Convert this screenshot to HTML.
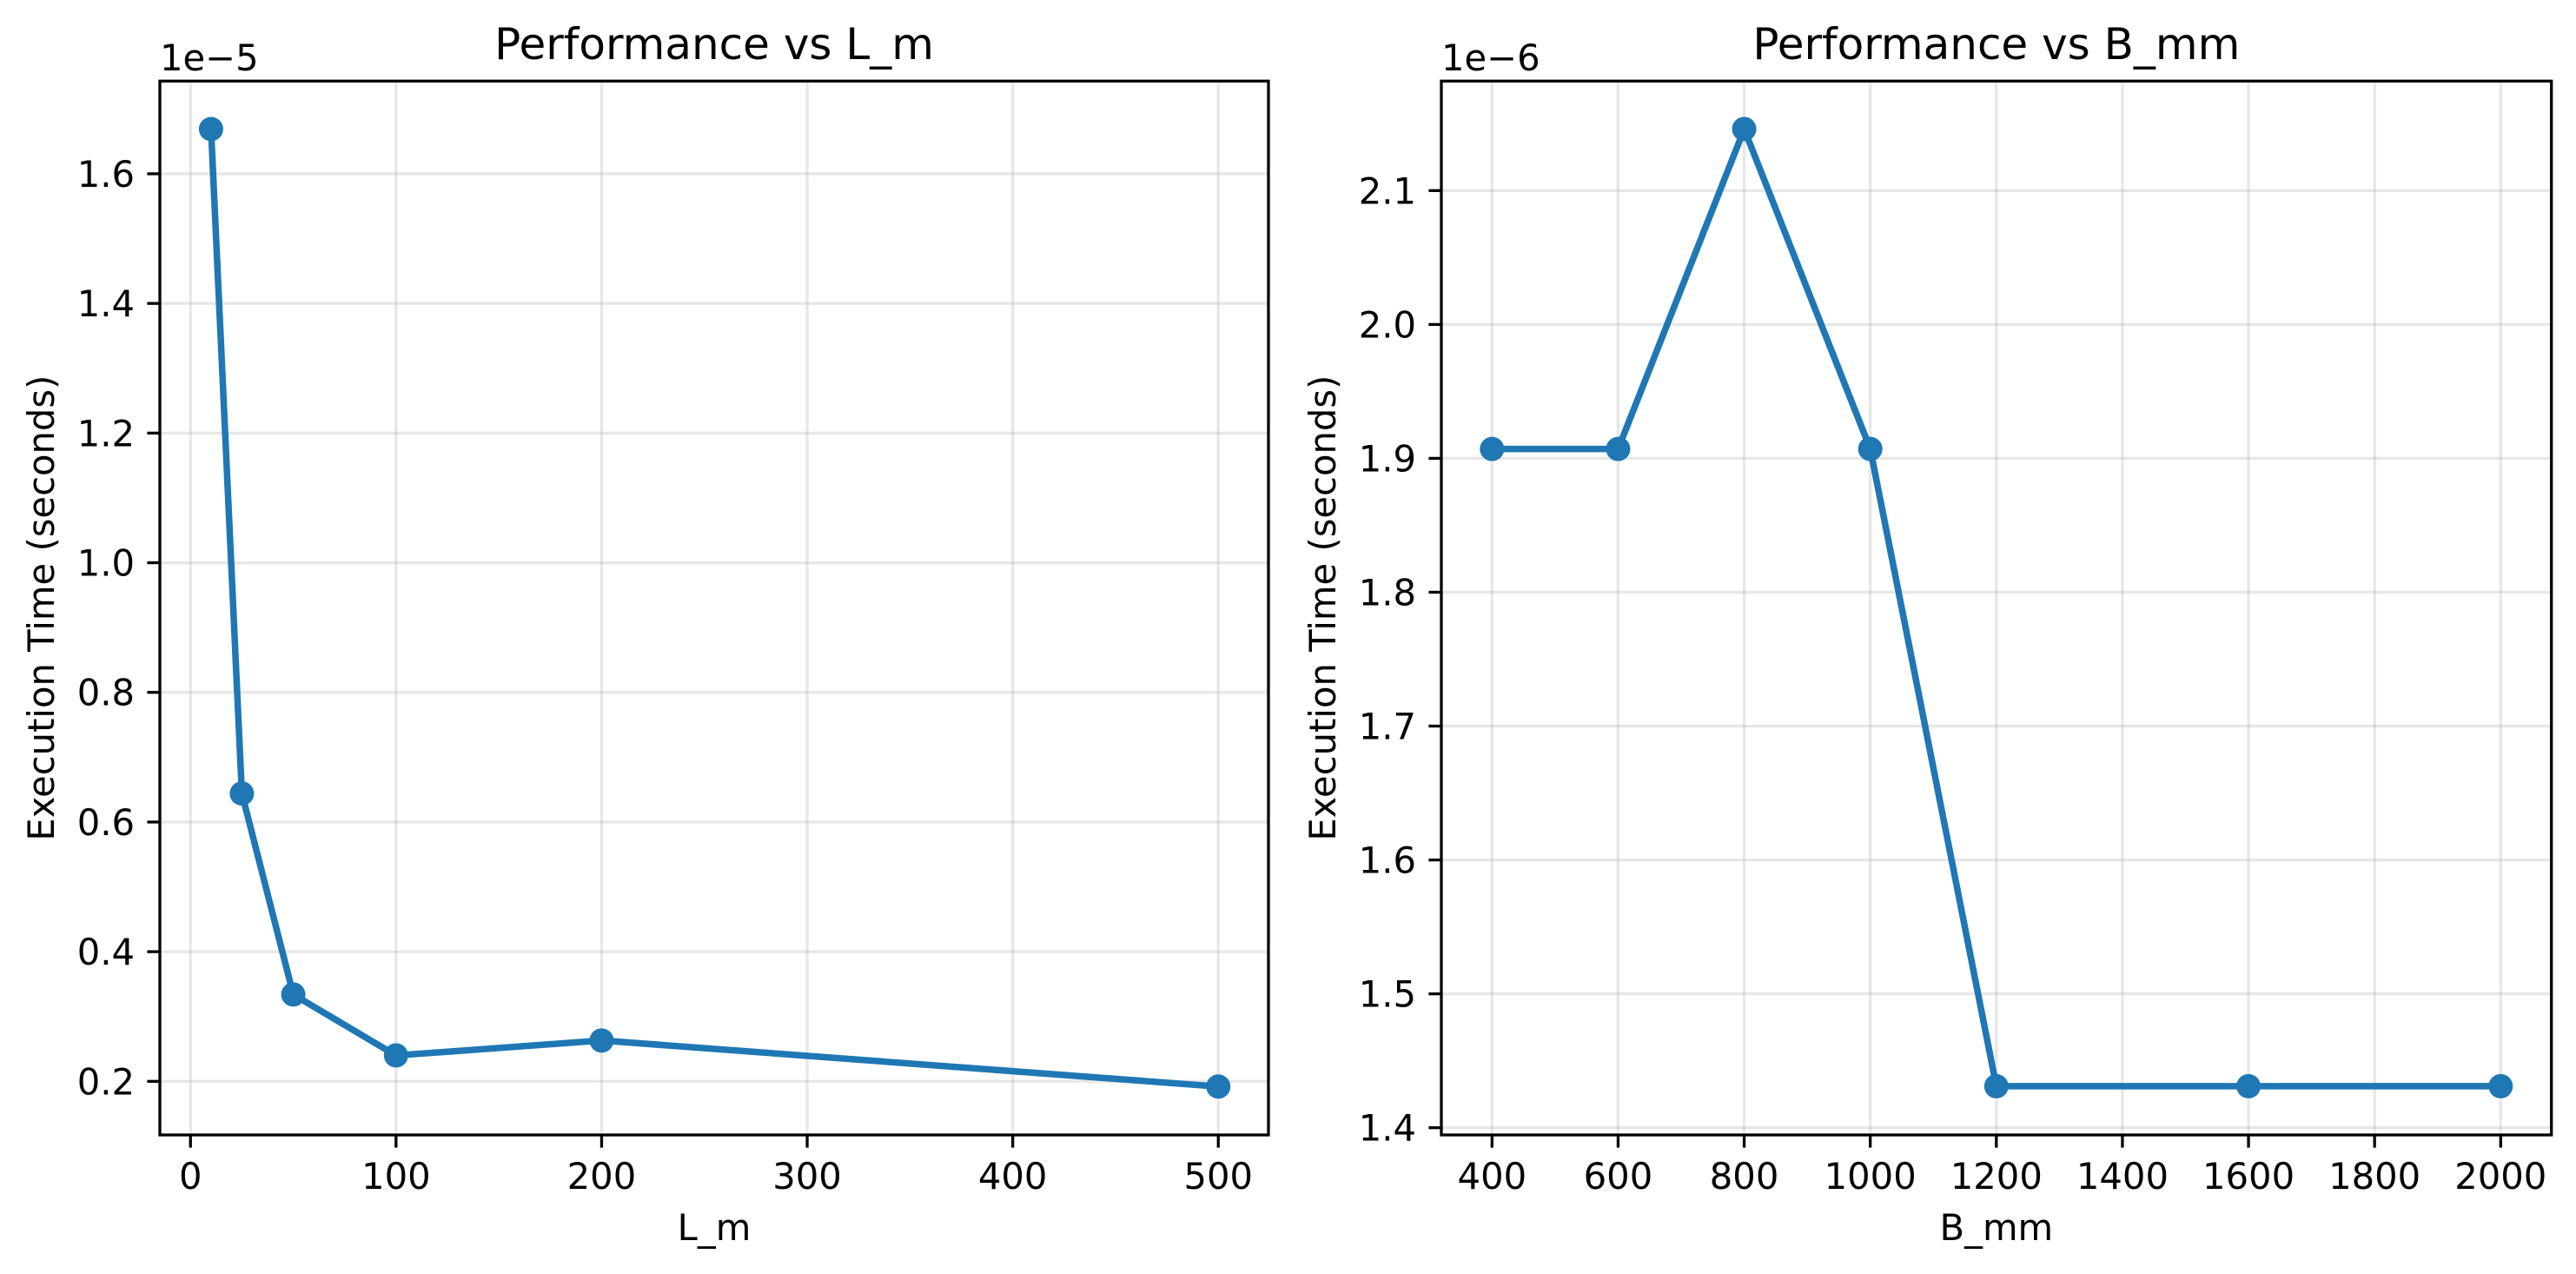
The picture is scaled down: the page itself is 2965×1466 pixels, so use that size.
<!DOCTYPE html>
<html><head><meta charset="utf-8">
<style>
html,body{margin:0;padding:0;background:#fff;}
svg{display:block;font-family:"DejaVu Sans","Liberation Sans",sans-serif;}
</style></head>
<body>
<svg id="fig" width="2965" height="1466" viewBox="0 0 2965 1466" xmlns="http://www.w3.org/2000/svg"></svg>
<script>
const lmX = [10, 25, 50, 100, 200, 500];
const lmY = [1.669, 0.644, 0.334, 0.240, 0.263, 0.192];
const lmXTicks = [0, 100, 200, 300, 400, 500];
const lmYTicks = [0.2, 0.4, 0.6, 0.8, 1.0, 1.2, 1.4, 1.6];
const bX = [400, 600, 800, 1000, 1200, 1600, 2000];
const bY = [1.907, 1.907, 2.146, 1.907, 1.431, 1.431, 1.431];
const bXTicks = [400, 600, 800, 1000, 1200, 1400, 1600, 1800, 2000];
const bYTicks = [1.4, 1.5, 1.6, 1.7, 1.8, 1.9, 2.0, 2.1];

const NS = "http://www.w3.org/2000/svg";
const svg = document.getElementById('fig');
function mk(tag, attrs, parent, text) {
  const e = document.createElementNS(NS, tag);
  for (const k in attrs) e.setAttribute(k, attrs[k]);
  if (text !== undefined) e.textContent = text;
  (parent || svg).appendChild(e);
  return e;
}

function panel(o) {
  const g = mk('g', {});
  
  
  const sx = v => o.L + (v - o.x0) / (o.x1 - o.x0) * (o.R - o.L);
  const sy = v => o.B - (v - o.y0) / (o.y1 - o.y0) * (o.B - o.T);
  // grid
  o.xt.forEach(t => {
    const l = mk('line', {x1: sx(t), x2: sx(t), y1: o.T, y2: o.B, stroke: '#b0b0b0', 'stroke-opacity': 0.3, 'stroke-width': 3.3}, g);
    
    
  });
  o.yt.forEach(t => {
    const l = mk('line', {x1: o.L, x2: o.R, y1: sy(t), y2: sy(t), stroke: '#b0b0b0', 'stroke-opacity': 0.3, 'stroke-width': 3.3}, g);
    
    
  });
  // line
  const pts = o.xs.map((x, i) => sx(x).toFixed(1) + ',' + sy(o.ys[i]).toFixed(1)).join(' ');
  const pl = mk('polyline', {points: pts, fill: 'none', stroke: '#1f77b4', 'stroke-width': 7.5, 'stroke-linejoin': 'round', 'stroke-linecap': 'round'}, g);
  
  
  o.xs.forEach((x, i) => {
    const c = mk('circle', {cx: sx(x), cy: sy(o.ys[i]), r: 14, fill: '#1f77b4'}, g);
    
    
  });
  // spines
  const fr = mk('rect', {x: o.L, y: o.T, width: o.R - o.L, height: o.B - o.T, fill: 'none', stroke: '#000', 'stroke-width': 3.3}, g);
  
  
  // ticks
  o.xt.forEach(t => {
    const tk = mk('line', {x1: sx(t), x2: sx(t), y1: o.B, y2: o.B + 14.6, stroke: '#000', 'stroke-width': 3.3}, g);
    
    
    const tx = mk('text', {x: sx(t), y: 1368, 'font-size': 41.7, 'text-anchor': 'middle', fill: '#000'}, g, String(t));
    
    
  });
  o.yt.forEach(t => {
    const tk = mk('line', {x1: o.L - 14.6, x2: o.L, y1: sy(t), y2: sy(t), stroke: '#000', 'stroke-width': 3.3}, g);
    
    
    const tx = mk('text', {x: o.L - 29, y: sy(t) + 15, 'font-size': 41.7, 'text-anchor': 'end', fill: '#000'}, g, t.toFixed(1));
    
    
  });
  const off = mk('text', {x: o.L, y: 81, 'font-size': 41.7, fill: '#000'}, g, o.offset);
  
  
  const ti = mk('text', {x: (o.L + o.R) / 2, y: 68, 'font-size': 50, 'text-anchor': 'middle', fill: '#000'}, g, o.title);
  
  
  const xl = mk('text', {x: (o.L + o.R) / 2, y: 1427, 'font-size': 41.7, 'text-anchor': 'middle', fill: '#000'}, g, o.xlabel);
  
  
  const yx = o.L - 122, yy = (o.T + o.B) / 2;
  const yl = mk('text', {x: yx, y: yy, 'font-size': 41.7, 'text-anchor': 'middle', fill: '#000', transform: 'rotate(-90 ' + yx + ' ' + yy + ')'}, g, 'Execution Time (seconds)');
  
  
}

panel({name: 'panel-l-m', L: 184, R: 1460, T: 93.3, B: 1306, x0: -14.9, x1: 524.4, y0: 0.1173, y1: 1.743,
  xs: lmX, ys: lmY, xt: lmXTicks, yt: lmYTicks, offset: '1e\u22125', title: 'Performance vs L_m', xlabel: 'L_m'});
panel({name: 'panel-b-mm', L: 1659, R: 2936.7, T: 93.3, B: 1306, x0: 319.6, x1: 2080.5, y0: 1.3946, y1: 2.1818,
  xs: bX, ys: bY, xt: bXTicks, yt: bYTicks, offset: '1e\u22126', title: 'Performance vs B_mm', xlabel: 'B_mm'});
</script>
</body></html>
